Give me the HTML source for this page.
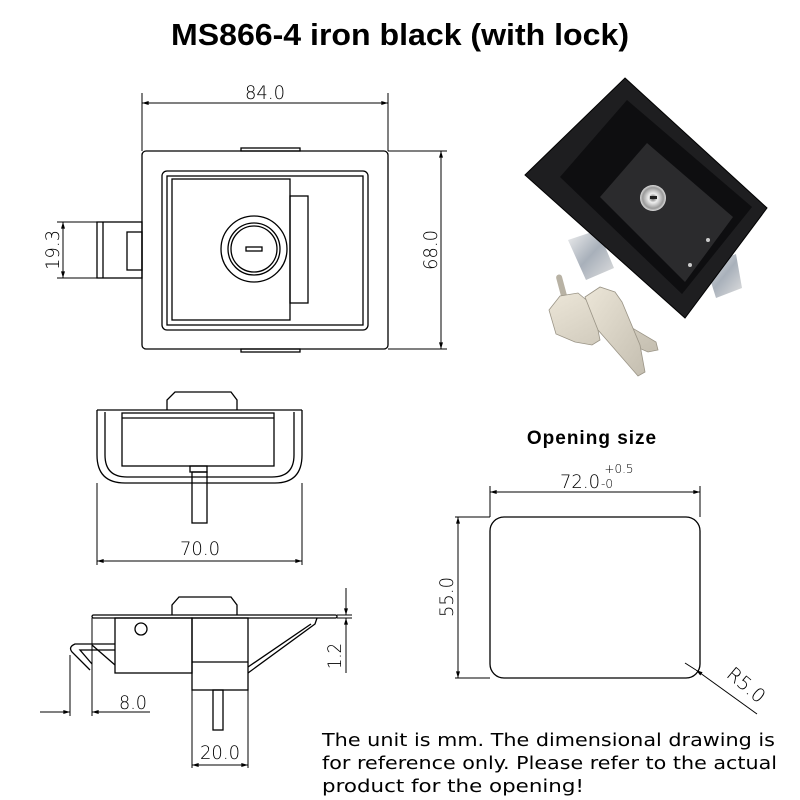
<!DOCTYPE html>
<html><head><meta charset="utf-8"><style>
html,body{margin:0;padding:0;background:#fff}
svg{display:block}
</style></head><body>
<svg width="800" height="800" viewBox="0 0 800 800" xmlns="http://www.w3.org/2000/svg" font-family="Liberation Sans, sans-serif">
<defs>
<marker id="a" viewBox="0 0 10 6" refX="10" refY="3" markerWidth="10" markerHeight="4" markerUnits="userSpaceOnUse" orient="auto-start-reverse"><path d="M0,0 L10,3 L0,6z" fill="#000"/></marker>
<linearGradient id="met" x1="0" y1="0" x2="1" y2="1"><stop offset="0" stop-color="#f0f0f0"/><stop offset="0.5" stop-color="#a8b0ba"/><stop offset="1" stop-color="#e0e0e0"/></linearGradient>
<linearGradient id="key" x1="0" y1="0" x2="1" y2="1"><stop offset="0" stop-color="#ece6d8"/><stop offset="1" stop-color="#c4beb0"/></linearGradient>
<radialGradient id="cyl"><stop offset="0" stop-color="#555"/><stop offset="0.35" stop-color="#eee"/><stop offset="0.8" stop-color="#999"/><stop offset="1" stop-color="#ddd"/></radialGradient>
</defs>
<text x="400" y="45" text-anchor="middle" font-weight="bold" font-size="31" textLength="458" lengthAdjust="spacingAndGlyphs">MS866-4 iron black (with lock)</text>

<g fill="none" stroke="#000" stroke-width="1.3">
<!-- front view -->
<line x1="142" y1="93" x2="142" y2="151" stroke-width="1"/>
<line x1="388" y1="93" x2="388" y2="151" stroke-width="1"/>
<line x1="142" y1="103" x2="388" y2="103" marker-start="url(#a)" marker-end="url(#a)" stroke-width="1"/>
<rect x="142" y="151" width="246" height="198" rx="4"/>
<rect x="241" y="148" width="59" height="3"/>
<rect x="241" y="349" width="59" height="3"/>
<rect x="162" y="171" width="206" height="159" rx="5"/>
<rect x="167" y="176" width="196" height="149"/>
<rect x="172" y="179" width="118" height="141"/>
<rect x="290" y="196" width="18" height="107"/>
<circle cx="254" cy="249" r="33"/>
<circle cx="254" cy="249" r="26"/>
<circle cx="254" cy="249" r="23"/>
<rect x="246" y="247" width="16" height="4"/>
<rect x="97" y="222" width="45" height="56"/>
<line x1="103" y1="222" x2="103" y2="278"/>
<rect x="127" y="232" width="15" height="38"/>
<line x1="57" y1="222" x2="97" y2="222" stroke-width="1"/>
<line x1="57" y1="278" x2="97" y2="278" stroke-width="1"/>
<line x1="63" y1="222" x2="63" y2="278" marker-start="url(#a)" marker-end="url(#a)" stroke-width="1"/>
<line x1="388" y1="151" x2="447" y2="151" stroke-width="1"/>
<line x1="388" y1="349" x2="447" y2="349" stroke-width="1"/>
<line x1="441" y1="151" x2="441" y2="349" marker-start="url(#a)" marker-end="url(#a)" stroke-width="1"/>

<!-- top view -->
<line x1="97" y1="410" x2="302" y2="410"/>
<path d="M97,410 L97,455 Q97,483 125,483 L275,483 Q302,483 302,455 L302,410"/>
<path d="M105,412 L105,455 Q105,477 127,477 L272,477 Q294,477 294,455 L294,412"/>
<rect x="122" y="413" width="152" height="53"/>
<line x1="122" y1="418" x2="274" y2="418"/>
<path d="M167,410 L167,400 L175,392 L231,392 L237,400 L237,410"/>
<rect x="190" y="466" width="17" height="6"/>
<rect x="192" y="472" width="15" height="51"/>
<line x1="97" y1="483" x2="97" y2="565" stroke-width="1"/>
<line x1="302" y1="483" x2="302" y2="565" stroke-width="1"/>
<line x1="97" y1="561" x2="302" y2="561" marker-start="url(#a)" marker-end="url(#a)" stroke-width="1"/>

<!-- side view -->
<rect x="92" y="615" width="245" height="3" rx="1.5"/>
<path d="M172,615 L172,605 L179,597 L231,597 L237,605 L237,615"/>
<rect x="115" y="618" width="77" height="55"/>
<rect x="192" y="618" width="56" height="72"/>
<line x1="192" y1="662" x2="248" y2="662"/>
<rect x="213" y="690" width="10" height="40"/>
<circle cx="141" cy="629" r="6"/>
<path d="M115,644 L75,644 Q68,647 72,652 L90,670"/>
<path d="M115,650 L80,650 L92,664"/>
<line x1="92" y1="645" x2="115" y2="665"/>
<path d="M248,673 L315,624 L317,618"/>
<path d="M248,667 L311,624"/>
<line x1="337" y1="615" x2="352" y2="615" stroke-width="1"/>
<line x1="337" y1="618" x2="352" y2="618" stroke-width="1"/>
<line x1="346" y1="588" x2="346" y2="615" marker-end="url(#a)" stroke-width="1"/>
<line x1="346" y1="673" x2="346" y2="618" marker-end="url(#a)" stroke-width="1"/>
<line x1="70" y1="655" x2="70" y2="716" stroke-width="1"/>
<line x1="92" y1="618" x2="92" y2="716" stroke-width="1"/>
<line x1="40" y1="712" x2="70" y2="712" marker-end="url(#a)" stroke-width="1"/>
<line x1="150" y1="712" x2="92" y2="712" marker-end="url(#a)" stroke-width="1"/>
<line x1="192" y1="690" x2="192" y2="768" stroke-width="1"/>
<line x1="248" y1="690" x2="248" y2="768" stroke-width="1"/>
<line x1="192" y1="765" x2="248" y2="765" marker-start="url(#a)" marker-end="url(#a)" stroke-width="1"/>

<!-- opening -->
<rect x="490" y="517" width="210" height="161" rx="14"/>
<line x1="490" y1="486" x2="490" y2="517" stroke-width="1"/>
<line x1="700" y1="486" x2="700" y2="517" stroke-width="1"/>
<line x1="490" y1="492" x2="700" y2="492" marker-start="url(#a)" marker-end="url(#a)" stroke-width="1"/>
<line x1="455" y1="517" x2="490" y2="517" stroke-width="1"/>
<line x1="455" y1="678" x2="490" y2="678" stroke-width="1"/>
<line x1="458" y1="517" x2="458" y2="678" marker-start="url(#a)" marker-end="url(#a)" stroke-width="1"/>
<line x1="757" y1="714" x2="696" y2="670" marker-end="url(#a)" stroke-width="1"/>
<line x1="685" y1="663" x2="696" y2="670" stroke-width="1"/>
</g>

<g font-size="19" fill="#000" font-family="DejaVu Sans, Liberation Sans, sans-serif" font-weight="300">
<text x="265" y="99" text-anchor="middle" textLength="40" lengthAdjust="spacingAndGlyphs">84.0</text>
<text transform="translate(437,250) rotate(-90)" text-anchor="middle" textLength="40" lengthAdjust="spacingAndGlyphs">68.0</text>
<text transform="translate(59,250) rotate(-90)" text-anchor="middle" textLength="40" lengthAdjust="spacingAndGlyphs">19.3</text>
<text x="200" y="555" text-anchor="middle" textLength="40" lengthAdjust="spacingAndGlyphs">70.0</text>
<text transform="translate(341,656) rotate(-90)" text-anchor="middle" textLength="26" lengthAdjust="spacingAndGlyphs">1.2</text>
<text x="133" y="709" text-anchor="middle" textLength="28" lengthAdjust="spacingAndGlyphs">8.0</text>
<text x="220" y="759" text-anchor="middle" textLength="40" lengthAdjust="spacingAndGlyphs">20.0</text>
<text x="580" y="488" text-anchor="middle" textLength="40" lengthAdjust="spacingAndGlyphs">72.0</text>
<text x="619" y="473" font-size="12" text-anchor="middle">+0.5</text>
<text x="601" y="488" font-size="12">-0</text>
<text transform="translate(453,597) rotate(-90)" text-anchor="middle" textLength="40" lengthAdjust="spacingAndGlyphs">55.0</text>
<text transform="translate(742,690) rotate(40)" text-anchor="middle">R5.0</text>
</g>
<text x="592" y="444" text-anchor="middle" font-weight="bold" font-size="19" letter-spacing="1">Opening size</text>
<g font-size="18" fill="#000" font-family="DejaVu Sans, Liberation Sans, sans-serif">
<text x="322" y="746" textLength="453" lengthAdjust="spacingAndGlyphs">The unit is mm. The dimensional drawing is</text>
<text x="322" y="769" textLength="455" lengthAdjust="spacingAndGlyphs">for reference only. Please refer to the actual</text>
<text x="322" y="792" textLength="262" lengthAdjust="spacingAndGlyphs">product for the opening!</text>
</g>

<!-- photo -->
<polygon points="568,240 598,230 614,268 586,280" fill="url(#met)"/>
<polygon points="706,266 736,254 742,288 716,298" fill="url(#met)"/>
<polygon points="625,78 767,208 685,318 525,175" fill="#1e1e20" stroke="#000" stroke-width="1"/>
<polygon points="627,100 752,207 682,294 560,177" fill="#0e0e10"/>
<polygon points="647,143 733,217 685,282 600,197" fill="#2b2b2d"/>
<circle cx="653" cy="198" r="13" fill="url(#cyl)"/>
<rect x="650" y="196" width="7" height="3" fill="#222"/>
<circle cx="708" cy="240" r="2" fill="#ccc"/>
<circle cx="690" cy="265" r="2" fill="#ccc"/>
<rect x="560" y="274" width="6" height="36" rx="3" fill="#b8b2a4" transform="rotate(-15 563 292)"/>
<polygon points="549,310 560,296 578,293 590,303 656,342 658,350 648,352 598,330 600,340 592,345 575,342 556,334" fill="url(#key)" stroke="#9a9486" stroke-width="0.8"/>
<polygon points="585,297 600,287 615,292 622,302 640,345 645,372 638,376 605,338 598,330" fill="url(#key)" stroke="#9a9486" stroke-width="0.8"/>
</svg>
</body></html>
